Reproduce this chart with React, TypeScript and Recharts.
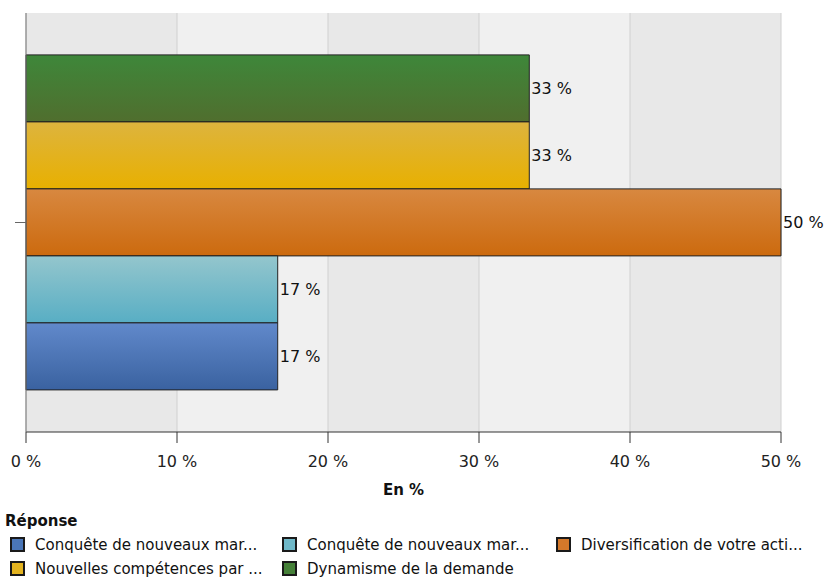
import { BarChart, Bar, XAxis, YAxis, CartesianGrid, LabelList, Label } from "recharts";

const categories = [""];
const seriesNames = [
  "Conquête de nouveaux mar...",
  "Conquête de nouveaux mar...",
  "Diversification de votre acti...",
  "Nouvelles compétences par ...",
  "Dynamisme de la demande",
];
const seriesValues = [16.67, 16.67, 50, 33.33, 33.33];
const seriesColors = ["#4a76b8", "#6fb8c8", "#d4782a", "#e4b420", "#458038"];
const gradientTops = ["#6189cb", "#94c6cd", "#d88840", "#ddb43e", "#3e873a"];
const gradientBottoms = ["#3a62a0", "#58aec4", "#cc6a0e", "#e8b000", "#506e2e"];
const xTicks = [0, 10, 20, 30, 40, 50];

const FONT = "'DejaVu Sans', Verdana, sans-serif";

const data = categories.map((name) => {
  const row: Record<string, string | number> = { name };
  seriesValues.forEach((v, i) => {
    row[`s${i}`] = v;
  });
  return row;
});

// bars are drawn top-down in series order, so reverse to match the reference
const drawOrder = seriesValues.map((_, i) => i).reverse();

export default function App() {
  return (
    <div style={{ position: "absolute", left: 0, top: 0, width: 824, height: 578, background: "#fff", fontFamily: FONT, overflow: "hidden" }}>
      <BarChart
        width={824}
        height={500}
        data={data}
        layout="vertical"
        margin={{ top: 13, right: 43, left: 8, bottom: 0 }}
        barCategoryGap="10%"
        barGap={0}
      >
        <defs>
          {seriesColors.map((_, i) => (
            <linearGradient key={i} id={`grad${i}`} x1="0" y1="0" x2="0" y2="1">
              <stop offset="0%" stopColor={gradientTops[i]} />
              <stop offset="100%" stopColor={gradientBottoms[i]} />
            </linearGradient>
          ))}
        </defs>
        <CartesianGrid
          horizontal={false}
          stroke="#d0d0d0"
          verticalFill={["#e8e8e8", "#f0f0f0"]}
          fillOpacity={1}
        />
        <XAxis
          type="number"
          domain={[0, 50]}
          ticks={xTicks}
          tickFormatter={(v) => `${v} %`}
          tickSize={11}
          tickMargin={13}
          height={68}
          axisLine={{ stroke: "#333" }}
          tickLine={{ stroke: "#333" }}
          tick={{ fontSize: 16, fill: "#222", fontFamily: FONT }}
        >
          <Label
            value="En %"
            position="insideBottom"
            offset={5}
            style={{ fontSize: 15, fontWeight: "bold", fill: "#111", fontFamily: FONT }}
          />
        </XAxis>
        <YAxis
          type="category"
          dataKey="name"
          width={18}
          tickSize={11}
          axisLine={{ stroke: "#777" }}
          tickLine={{ stroke: "#666" }}
          tickFormatter={() => ""}
        />
        {drawOrder.map((i) => (
          <Bar
            key={i}
            dataKey={`s${i}`}
            name={seriesNames[i]}
            fill={`url(#grad${i})`}
            stroke="#222"
            strokeWidth={1}
            isAnimationActive={false}
          >
            <LabelList
              dataKey={`s${i}`}
              position="right"
              offset={2}
              formatter={(v: number) => `${Math.round(v)} %`}
              style={{ fontSize: 16, fill: "#111", fontFamily: FONT }}
            />
          </Bar>
        ))}
      </BarChart>
      <div style={{ position: "absolute", left: 5, top: 512, fontSize: 15, fontWeight: "bold", color: "#111" }}>
        Réponse
      </div>
      <div
        style={{
          position: "absolute",
          left: 10,
          top: 533,
          display: "grid",
          gridTemplateColumns: "272px 274px 300px",
          rowGap: 1,
          fontSize: 15,
          color: "#111",
        }}
      >
        {seriesNames.map((n, i) => (
          <div key={i} style={{ display: "flex", alignItems: "center", height: 23 }}>
            <span
              style={{
                display: "inline-block",
                flex: "none",
                width: 11,
                height: 11,
                border: "2px solid #1a1a1a",
                background: seriesColors[i],
                marginRight: 10,
              }}
            />
            <span style={{ whiteSpace: "nowrap" }}>{n}</span>
          </div>
        ))}
      </div>
    </div>
  );
}
